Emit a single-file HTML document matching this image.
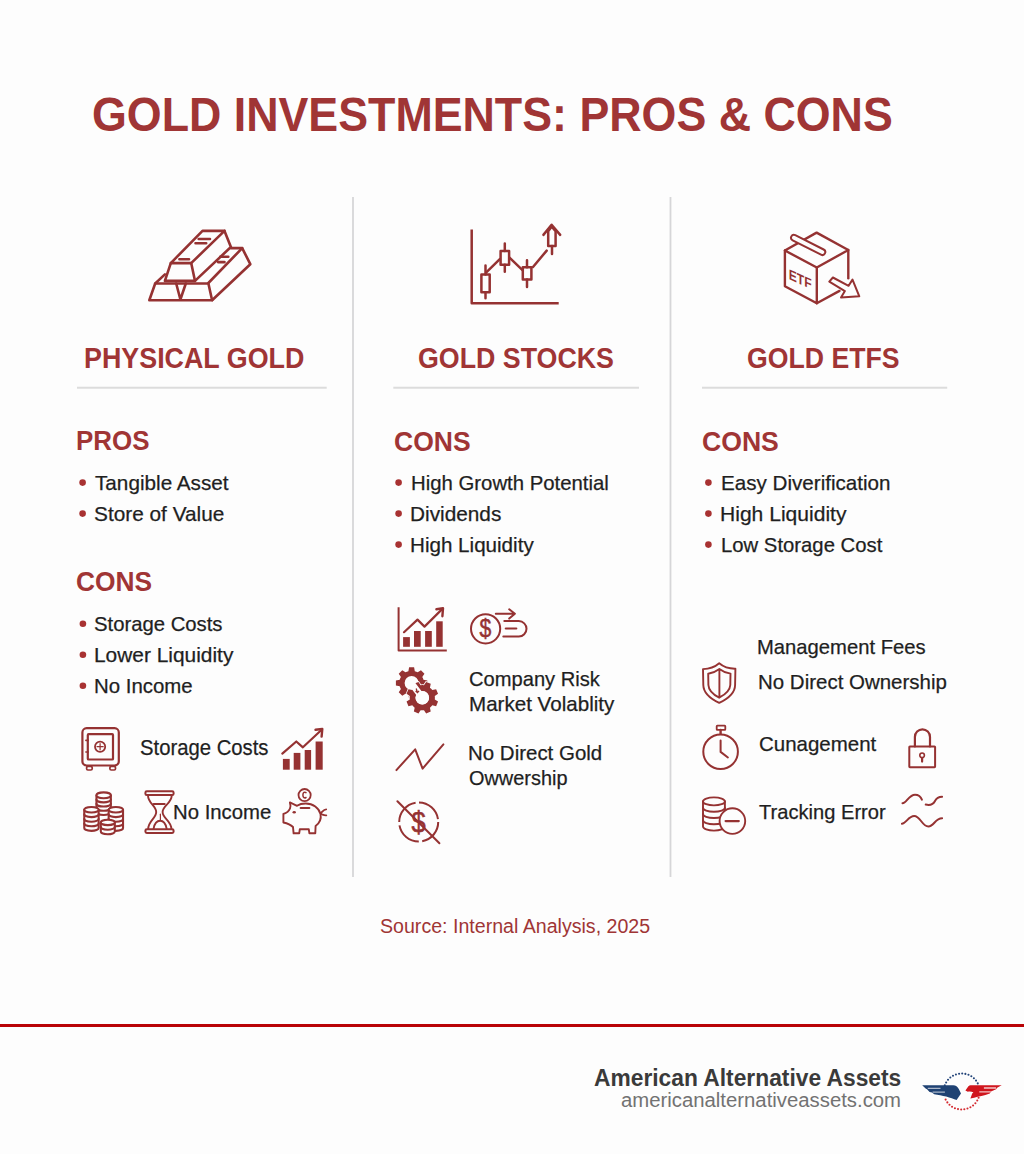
<!DOCTYPE html>
<html><head><meta charset="utf-8"><title>Gold Investments: Pros &amp; Cons</title>
<style>
html,body{margin:0;padding:0}
body{width:1024px;height:1154px;position:relative;overflow:hidden;background:#fdfdfd;font-family:"Liberation Sans",Arial,Helvetica,sans-serif;color:#1f1f1f}
.t{position:absolute;white-space:nowrap;line-height:1;transform-origin:0 0}
.d{-webkit-text-stroke:0.25px #1f1f1f}
svg.ic{position:absolute;left:0;top:0}
</style></head><body>
<svg class="ic" width="1024" height="1154" viewBox="0 0 1024 1154">
<!-- column separators and dividers -->
<g stroke="#d6d6d8" stroke-width="1.8">
<line x1="353" y1="197" x2="353" y2="877"/>
<line x1="670.5" y1="197" x2="670.5" y2="877"/>
</g>
<g stroke="#dcdcdc" stroke-width="2">
<line x1="77" y1="387.7" x2="326.7" y2="387.7"/>
<line x1="393.3" y1="387.7" x2="639" y2="387.7"/>
<line x1="702" y1="387.7" x2="947.2" y2="387.7"/>
</g>
<!-- footer red line -->
<rect x="0" y="1024" width="1024" height="3" fill="#b90307"/>

<!-- bullets -->
<g fill="#a83232">
<circle cx="82.6" cy="482.6" r="3.3"/><circle cx="82.6" cy="513.6" r="3.3"/>
<circle cx="82.9" cy="623.8" r="3.3"/><circle cx="82.9" cy="654.8" r="3.3"/><circle cx="82.9" cy="685.8" r="3.3"/>
<circle cx="398.6" cy="482.6" r="3.3"/><circle cx="398.6" cy="513.6" r="3.3"/><circle cx="398.6" cy="544.6" r="3.3"/>
<circle cx="708.4" cy="482.6" r="3.3"/><circle cx="708.4" cy="513.6" r="3.3"/><circle cx="708.4" cy="544.6" r="3.3"/>
</g>

<g fill="none" stroke="#953232" stroke-linecap="round" stroke-linejoin="round">
<!-- gold bars -->
<g stroke-width="2.6">
<path d="M170.8 263.1 L202.5 230.9 L224.5 230.9 L191.2 263.1 Z"/>
<path d="M170.8 263.1 L164.9 280.9 L195 280.9 L191.2 263.1"/>
<path d="M224.5 230.9 L230.9 247 L195 280.9"/>
<path d="M230.9 248.1 L242.2 248.1 L250.3 264.2 L212.1 300.2"/>
<path d="M208.4 283 L242.2 248.1"/>
<path d="M155.2 283.5 L208.4 283.5 L212.1 300.2 L149.3 300.2 Z"/>
<path d="M176.2 283.5 L180.4 299.5 L185.8 283.5"/>
<path d="M155.2 283.5 L164.9 274.4"/>
<path d="M198.7 239 L210 239 M195.5 243.3 L206.2 243.3 M179.4 259.2 L189 259.2 M220.2 256.7 L228.3 256.7 M218 262.1 L224.5 262.1"/>
</g>
<!-- candlestick chart -->
<g stroke-width="2.5">
<path d="M471.7 229.5 L471.7 303.3 L558.7 303.3" stroke-linecap="butt"/>
<rect x="481.4" y="274.4" width="8.3" height="17.9"/>
<path d="M485.5 265.5 V274.4 M485.5 292.3 V298.3"/>
<rect x="500.6" y="250.9" width="8.5" height="13.8"/>
<path d="M504.8 243.6 V250.9 M504.8 264.7 V271.7"/>
<rect x="522.8" y="267.3" width="8.6" height="12.2"/>
<path d="M527 260.3 V267.3 M527 279.5 V287"/>
<path d="M548.2 245.9 V231.2 L551.8 226.6 L555.6 231.2 V245.9 Z"/>
<path d="M552 245.9 V254"/>
<path d="M543.4 234.9 L551.6 224.7 L560.2 234.9"/>
<path d="M486.3 272.3 L499.8 259.2 M509.5 257.7 L522.5 270.2 M533 267 L546.7 250.6"/>
</g>
<!-- ETF box -->
<g stroke-width="2.4">
<path d="M784.9 250.5 L816.6 232.6 L848.3 250 L816.8 267.5 Z"/>
<path d="M784.9 250.5 L784.9 286.2 L816.8 303.2 L816.8 267.5"/>
<path d="M848.3 250 L848.3 278.2"/>
<path d="M816.8 303.2 L839.5 290.9"/>
<rect x="-18.8" y="-2.9" width="37.6" height="5.8" rx="2.9" fill="#fdfdfd" stroke-width="2" transform="translate(808.15 244.9) rotate(26.9)"/>
<path d="M832.9 277.5 L848.6 285.8 L852.5 279.6 L859.3 296.3 L841 297.5 L844.9 291.1 L829.3 281.6 Z" stroke-width="2"/>
</g>
</g>
<text x="0" y="0" transform="matrix(1,0.45,0,1,788.7,279.0)" font-family="Liberation Sans" font-weight="bold" font-size="14.5" fill="#953232" textLength="23" lengthAdjust="spacingAndGlyphs">ETF</text>
















<!--ICONS2--><g fill="none" stroke="#953232" stroke-linecap="round" stroke-linejoin="round" stroke-width="2">
<rect x="82.4" y="728.2" width="36.4" height="37.3" rx="4.2" stroke-width="2.2"/>
<rect x="87.8" y="734.1" width="25.2" height="25.4" rx="0.8" stroke-width="2.2"/>
<path d="M85.9 740.4 H88.2 M85.9 752 H88.2" stroke-width="1.6"/>
<circle cx="100.1" cy="746.7" r="5.1" stroke-width="1.8"/>
<path d="M100.1 743.6 V749.8 M97 746.7 H103.2" stroke-width="1.2"/>
<rect x="86.6" y="766.4" width="5.6" height="3.6" rx="1.3" stroke-width="1.7"/>
<rect x="109.9" y="766.4" width="5.6" height="3.6" rx="1.3" stroke-width="1.7"/>
<g fill="#953232" stroke="none"><rect x="282.9" y="758.9" width="6.8" height="10.8"/><rect x="293.7" y="752.9" width="6.7" height="16.8"/><rect x="304.7" y="750" width="6.4" height="19.7"/><rect x="315.6" y="741.5" width="7.1" height="28.2"/></g>
<path d="M282.3 753.6 L296.3 741.5 L302.9 747.3 L321.4 730" stroke-width="2.2"/>
<path d="M315.5 729.8 L322.3 729 L321.6 736.6" stroke-width="2.4"/>
<g stroke-width="2.05">
<path d="M96.45 795.30 V812.10 A7.2 2.9 0 0 0 110.85 812.10 V795.30" fill="#fdfdfd"/><ellipse cx="103.65" cy="795.3" rx="7.2" ry="2.9" fill="#fdfdfd"/><path d="M96.45 799.50 A7.2 2.9 0 0 0 110.85 799.50"/><path d="M96.45 803.70 A7.2 2.9 0 0 0 110.85 803.70"/><path d="M96.45 807.90 A7.2 2.9 0 0 0 110.85 807.90"/>
<path d="M84.25 809.70 V828.10 A7.2 2.8 0 0 0 98.65 828.10 V809.70" fill="#fdfdfd"/><ellipse cx="91.45" cy="809.7" rx="7.2" ry="2.8" fill="#fdfdfd"/><path d="M84.25 814.30 A7.2 2.8 0 0 0 98.65 814.30"/><path d="M84.25 818.90 A7.2 2.8 0 0 0 98.65 818.90"/><path d="M84.25 823.50 A7.2 2.8 0 0 0 98.65 823.50"/>
<path d="M108.65 809.70 V828.10 A7.2 2.8 0 0 0 123.05 828.10 V809.70" fill="#fdfdfd"/><ellipse cx="115.85" cy="809.7" rx="7.2" ry="2.8" fill="#fdfdfd"/><path d="M108.65 814.30 A7.2 2.8 0 0 0 123.05 814.30"/><path d="M108.65 818.90 A7.2 2.8 0 0 0 123.05 818.90"/><path d="M108.65 823.50 A7.2 2.8 0 0 0 123.05 823.50"/>
<path d="M100.80 822.40 V831.60 A7.0 2.7 0 0 0 114.80 831.60 V822.40" fill="#fdfdfd"/><ellipse cx="107.8" cy="822.4" rx="7.0" ry="2.7" fill="#fdfdfd"/><path d="M100.80 827.00 A7.0 2.7 0 0 0 114.80 827.00"/>
</g>
<rect x="145.4" y="791.3" width="28.2" height="3.8" rx="1.4" stroke-width="2"/>
<rect x="145.4" y="829.3" width="28.2" height="3.6" rx="1.4" stroke-width="2"/>
<path d="M148 795.6 C148 803.5 156.2 805.5 156.2 812 C156.2 818.5 148.2 820.5 148.2 829 M171.7 795.6 C171.7 803.5 162.6 805.5 162.6 812 C162.6 818.5 171.4 820.5 171.4 829" stroke-width="1.9"/>
<path d="M153.6 804 H164.6" stroke-width="2.2"/>
<path d="M160.4 814.2 V820.3" stroke-width="1.2"/>
<path d="M153.6 828.6 C154.6 823 157.5 820.7 160.1 820.7 C162.7 820.7 165.6 823 166.6 828.6" stroke-width="1.9"/>
<path d="M289.9 802.4 L297 805.8 C300 803.8 303 803.5 305.7 803.5 C313 803.5 319 808 320.5 814 C321.5 819 319 823.5 315.6 826 L315.3 833.3 L309.4 833.3 L308.8 829.3 L299.8 829.3 L299.2 833.3 L293.6 833.3 L293 827 C291 825 288 823.5 283.4 822.5 L283.4 814 C286.5 813 289 811 290 808.5 C291 806.5 290.5 804.5 289.9 802.4 Z" stroke-width="1.9"/>
<ellipse cx="294.2" cy="812.3" rx="1.7" ry="1.2" fill="#953232" stroke="none"/>
<path d="M300.6 808 H309.4" stroke-width="2"/>
<circle cx="304.6" cy="795.1" r="6.1" stroke-width="1.8"/>
<path d="M306 792.6 C304.6 791.6 302.9 792.5 302.9 795 C302.9 797.6 304.6 798.4 306 797.5" stroke-width="1.5"/>
<path d="M320.8 813 C322.5 811.8 323.5 809.5 326.2 809.4 M321 814 C322.8 814.5 324 815.6 326.3 815.3" stroke-width="1.8"/>
<path d="M398.6 607.3 V650.6 H446.8" stroke-width="2" stroke-linecap="butt"/>
<g fill="#953232" stroke="none"><rect x="403.1" y="637.1" width="6.8" height="9.7"/><rect x="414" y="631" width="6.7" height="15.8"/><rect x="425.1" y="631" width="6.7" height="15.8"/><rect x="436.2" y="621.3" width="6.5" height="25.5"/></g>
<path d="M404 632.2 L417.5 619.6 L424.5 626.6 L441.9 609.4" stroke-width="2.2"/>
<path d="M436.4 609.3 L443 608.3 L442.4 616.2" stroke-width="2.4"/>
<circle cx="485.6" cy="628.8" r="14.6" stroke-width="2"/>
<path d="M504.3 621.1 H518.8 A7.7 7.7 0 0 1 518.8 636.5 H503.3" stroke-width="2"/>
<path d="M505.8 628.5 H516.3" stroke-width="2.2"/>
<path d="M495.8 613.7 H514.8 M509.2 609.3 L514.9 613.8 L509.2 618.6" stroke-width="2"/>
<path d="M396.4 770.1 L415.2 749.3 L422.6 768.6 L443.4 744.4" stroke-width="2"/>
<circle cx="418.7" cy="822" r="19.5" stroke-width="2" stroke-dasharray="27.13 3.5" stroke-dashoffset="0.3" stroke-linecap="butt"/>
<path d="M397.4 801.2 L439.4 843.2" stroke-width="2"/>
<path d="M719.2 663.3 C715 667 709 669 703 669.1 L703.3 685 C703.5 694 712 699.5 719.2 702.9 C726.4 699.5 735 694 735.1 685 L735.4 668.7 C729.5 668.8 723.5 667 719.2 663.3 Z" stroke-width="1.9"/>
<path d="M719.4 668.9 C716 671.5 712 673 708.2 673.8 L708.4 685 C708.6 690.5 714 695 719.2 697.7 C724.4 695 730 690.5 730.3 685 L730.5 673.6 C726.7 673 722.8 671.5 719.4 668.9 Z M719.4 668.9 V695.8" stroke-width="1.9"/>
<circle cx="720.6" cy="751.7" r="17.3" stroke-width="2"/>
<rect x="716.7" y="725.7" width="8.6" height="4.2" rx="0.6" stroke-width="1.8"/>
<path d="M720.6 730 V733.6" stroke-width="2.4"/>
<path d="M720.6 740.6 V751.9 L727.9 757.5" stroke-width="2"/>
<rect x="909.3" y="746.4" width="25.8" height="20.8" rx="0.6" stroke-width="2"/>
<path d="M914.9 746.4 V736.9 A7.55 7.55 0 0 1 930 736.9 V746.4" stroke-width="2.2"/>
<circle cx="922.1" cy="755.3" r="2.3" stroke-width="1.6"/>
<path d="M922.1 758 V761.6" stroke-width="2.2"/>
<g stroke-width="1.9">
<path d="M703 801.4 V826.6 A10.9 4 0 0 0 724.9 826.6 V801.4" fill="#fdfdfd"/><ellipse cx="713.95" cy="801.4" rx="10.95" ry="4" fill="#fdfdfd"/><path d="M703 807.7 A10.95 4 0 0 0 724.9 807.7"/><path d="M703 814 A10.95 4 0 0 0 724.9 814"/><path d="M703 820.3 A10.95 4 0 0 0 724.9 820.3"/>
<circle cx="732.4" cy="821.1" r="12.8" fill="#fdfdfd"/>
<path d="M725.6 821.1 H738.8" stroke-width="2.2"/>
</g>
<path d="M902.5 803.2 C906.5 803 909 794.7 915 794.7 C919 794.7 921 797.2 921.9 799.7 M925.7 804.6 C930 805.5 933 805 935 801 C936.7 797.5 938.5 796.7 942.1 796.7" stroke-width="2"/>
<path d="M901.9 823.7 C906 823.5 908.5 816.1 914.2 816.1 C920.5 816.1 922 826.5 928.4 826.5 C934 826.5 935 818.3 942.1 818.3" stroke-width="2"/>
</g>
<path d="M406.89 671.64 L408.39 671.13 L409.11 667.30 L414.09 667.30 L414.81 671.13 L416.31 671.64 L417.72 672.33 L420.94 670.14 L424.46 673.66 L422.27 676.88 L422.96 678.29 L423.47 679.79 L427.30 680.51 L427.30 685.49 L423.47 686.21 L422.96 687.71 L422.27 689.12 L424.46 692.34 L420.94 695.86 L417.72 693.67 L416.31 694.36 L414.81 694.87 L414.09 698.70 L409.11 698.70 L408.39 694.87 L406.89 694.36 L405.48 693.67 L402.26 695.86 L398.74 692.34 L400.93 689.12 L400.24 687.71 L399.73 686.21 L395.90 685.49 L395.90 680.51 L399.73 679.79 L400.24 678.29 L400.93 676.88 L398.74 673.66 L402.26 670.14 L405.48 672.33 Z M418.60 683.00 A7.0 7.0 0 1 0 404.60 683.00 A7.0 7.0 0 1 0 418.60 683.00 Z" fill="#953232" fill-rule="evenodd"/>
<path d="M422.30 685.10 L423.99 685.21 L426.13 681.96 L430.73 683.86 L429.93 687.67 L431.21 688.79 L432.33 690.07 L436.14 689.27 L438.04 693.87 L434.79 696.01 L434.90 697.70 L434.79 699.39 L438.04 701.53 L436.14 706.13 L432.33 705.33 L431.21 706.61 L429.93 707.73 L430.73 711.54 L426.13 713.44 L423.99 710.19 L422.30 710.30 L420.61 710.19 L418.47 713.44 L413.87 711.54 L414.67 707.73 L413.39 706.61 L412.27 705.33 L408.46 706.13 L406.56 701.53 L409.81 699.39 L409.70 697.70 L409.81 696.01 L406.56 693.87 L408.46 689.27 L412.27 690.07 L413.39 688.79 L414.67 687.67 L413.87 683.86 L418.47 681.96 L420.61 685.21 Z M429.10 697.70 A6.8 6.8 0 1 0 415.50 697.70 A6.8 6.8 0 1 0 429.10 697.70 Z" fill="#953232" fill-rule="evenodd" stroke="#fdfdfd" stroke-width="1.6" paint-order="stroke"/>
<circle cx="422.3" cy="697.7" r="6.8" fill="#fdfdfd"/>
<path d="M412 684 L421.5 696.5" stroke="#fdfdfd" stroke-width="6.5" stroke-linecap="round"/>
<path d="M416.2 688.5 L417.5 692.6 M415.6 691 L417.5 692.6 L419 690.8" stroke="#953232" stroke-width="1.3" fill="none"/>
<text x="479.5" y="636.8" font-family="Liberation Sans" font-size="25" fill="#953232" stroke="#953232" stroke-width="0.5" textLength="11.8" lengthAdjust="spacingAndGlyphs">$</text>
<text x="411.6" y="831.7" font-family="Liberation Sans" font-size="30" fill="#953232" stroke="#953232" stroke-width="0.6" textLength="14.2" lengthAdjust="spacingAndGlyphs">$</text>
<path d="M944.8 1085.3 A18 18 0 0 1 978.6 1085.3" fill="none" stroke="#24457a" stroke-width="2.1" stroke-linecap="round" stroke-dasharray="0 3.2"/>
<path d="M978.6 1097.7 A18 18 0 0 1 944.8 1097.7" fill="none" stroke="#d42a30" stroke-width="2.1" stroke-linecap="round" stroke-dasharray="0 3.2"/>
<path d="M922.2 1085.3 L953.2 1085.3 C955.8 1085.3 957.6 1086.8 958.8 1089 L961 1093.6 L956.6 1100 C951 1097.6 942 1095.2 934.2 1094.2 L932 1092.4 L929.6 1092 L927 1089.2 L925.6 1088.6 Z" fill="#1f4273"/>
<path d="M927.8 1088.3 H940.5 M932.6 1092.2 H944.9" stroke="#aab6c9" stroke-width="1.3"/>
<path d="M965.4 1090.5 L968.4 1086.2 C969 1085.5 969.8 1085.3 970.6 1085.3 L1001.7 1085.3 L997.1 1087.8 L996.1 1089.2 L991 1091.6 L989.8 1093.6 L985.4 1095.1 C980 1096.5 975.5 1097.5 970.4 1098.6 L972.2 1093.6 L973.4 1092.2 C971.4 1091.4 969.5 1091.3 967.8 1091.7 Z" fill="#d0161e"/>
<path d="M983.9 1088 H996.1 M979.3 1091.9 H990.8" stroke="#f3c6c8" stroke-width="1.3"/><!--/ICONS2-->
</svg>

<div class="t" id="t0" style="left:91.75px;top:90.60px;font-size:48px;font-weight:bold;color:#a03535;transform:scaleX(0.9325);">GOLD INVESTMENTS: PROS &amp; CONS</div>
<div class="t" id="t1" style="left:83.95px;top:344.10px;font-size:29px;font-weight:bold;color:#a03535;transform:scaleX(0.9260);">PHYSICAL GOLD</div>
<div class="t" id="t2" style="left:418.46px;top:344.10px;font-size:29px;font-weight:bold;color:#a03535;transform:scaleX(0.9238);">GOLD STOCKS</div>
<div class="t" id="t3" style="left:746.95px;top:344.10px;font-size:29px;font-weight:bold;color:#a03535;transform:scaleX(0.9191);">GOLD ETFS</div>
<div class="t" id="t4" style="left:76.00px;top:428.20px;font-size:27px;font-weight:bold;color:#a03535;transform:scaleX(0.9596);">PROS</div>
<div class="t" id="t5" style="left:76.46px;top:568.50px;font-size:27px;font-weight:bold;color:#a03535;transform:scaleX(0.9758);">CONS</div>
<div class="t" id="t6" style="left:394.14px;top:428.50px;font-size:27px;font-weight:bold;color:#a03535;transform:scaleX(0.9816);">CONS</div>
<div class="t" id="t7" style="left:702.23px;top:428.50px;font-size:27px;font-weight:bold;color:#a03535;transform:scaleX(0.9851);">CONS</div>
<div class="t d" id="t8" style="left:95.44px;top:471.80px;font-size:21px;transform:scaleX(0.9862);">Tangible Asset</div>
<div class="t d" id="t9" style="left:94.38px;top:502.80px;font-size:21px;transform:scaleX(0.9906);">Store of Value</div>
<div class="t d" id="t10" style="left:94.48px;top:612.90px;font-size:21px;transform:scaleX(0.9658);">Storage Costs</div>
<div class="t d" id="t11" style="left:94.39px;top:643.90px;font-size:21px;transform:scaleX(0.9947);">Lower Liquidity</div>
<div class="t d" id="t12" style="left:94.49px;top:674.70px;font-size:21px;transform:scaleX(0.9712);">No Income</div>
<div class="t d" id="t13" style="left:410.67px;top:471.90px;font-size:21px;transform:scaleX(0.9687);">High Growth Potential</div>
<div class="t d" id="t14" style="left:410.37px;top:502.90px;font-size:21px;transform:scaleX(0.9901);">Dividends</div>
<div class="t d" id="t15" style="left:410.49px;top:533.90px;font-size:21px;transform:scaleX(0.9810);">High Liquidity</div>
<div class="t d" id="t16" style="left:720.52px;top:471.90px;font-size:21px;transform:scaleX(0.9814);">Easy Diverification</div>
<div class="t d" id="t17" style="left:720.22px;top:502.90px;font-size:21px;transform:scaleX(1.0029);">High Liquidity</div>
<div class="t d" id="t18" style="left:720.69px;top:533.90px;font-size:21px;transform:scaleX(0.9663);">Low Storage Cost</div>
<div class="t d" id="t19" style="left:139.56px;top:736.70px;font-size:22px;transform:scaleX(0.9217);">Storage Costs</div>
<div class="t d" id="t20" style="left:172.67px;top:800.70px;font-size:21px;transform:scaleX(0.9681);">No Income</div>
<div class="t d" id="t21" style="left:468.71px;top:667.80px;font-size:21px;transform:scaleX(0.9584);">Company Risk</div>
<div class="t d" id="t22" style="left:468.63px;top:693.30px;font-size:21px;transform:scaleX(0.9801);">Market Volablity</div>
<div class="t d" id="t23" style="left:467.95px;top:741.50px;font-size:21px;transform:scaleX(0.9748);">No Direct Gold</div>
<div class="t d" id="t24" style="left:468.57px;top:767.10px;font-size:21px;transform:scaleX(0.9483);">Owwership</div>
<div class="t d" id="t25" style="left:757.28px;top:636.00px;font-size:21px;transform:scaleX(0.9629);">Management Fees</div>
<div class="t d" id="t26" style="left:757.83px;top:671.10px;font-size:21px;transform:scaleX(0.9750);">No Direct Ownership</div>
<div class="t d" id="t27" style="left:758.85px;top:733.10px;font-size:21px;transform:scaleX(0.9754);">Cunagement</div>
<div class="t d" id="t28" style="left:758.87px;top:800.70px;font-size:21px;transform:scaleX(0.9582);">Tracking Error</div>
<div class="t" id="t29" style="left:380.49px;top:916.10px;font-size:20px;color:#a03535;transform:scaleX(0.9796);">Source: Internal Analysis, 2025</div>
<div class="t" id="t30" style="left:594.06px;top:1067.00px;font-size:23px;font-weight:bold;color:#3a3a3a;transform:scaleX(0.9905);">American Alternative Assets</div>
<div class="t" id="t31" style="left:620.89px;top:1089.90px;font-size:20px;color:#727272;transform:scaleX(1.0157);">americanalternativeassets.com</div>
</body></html>
